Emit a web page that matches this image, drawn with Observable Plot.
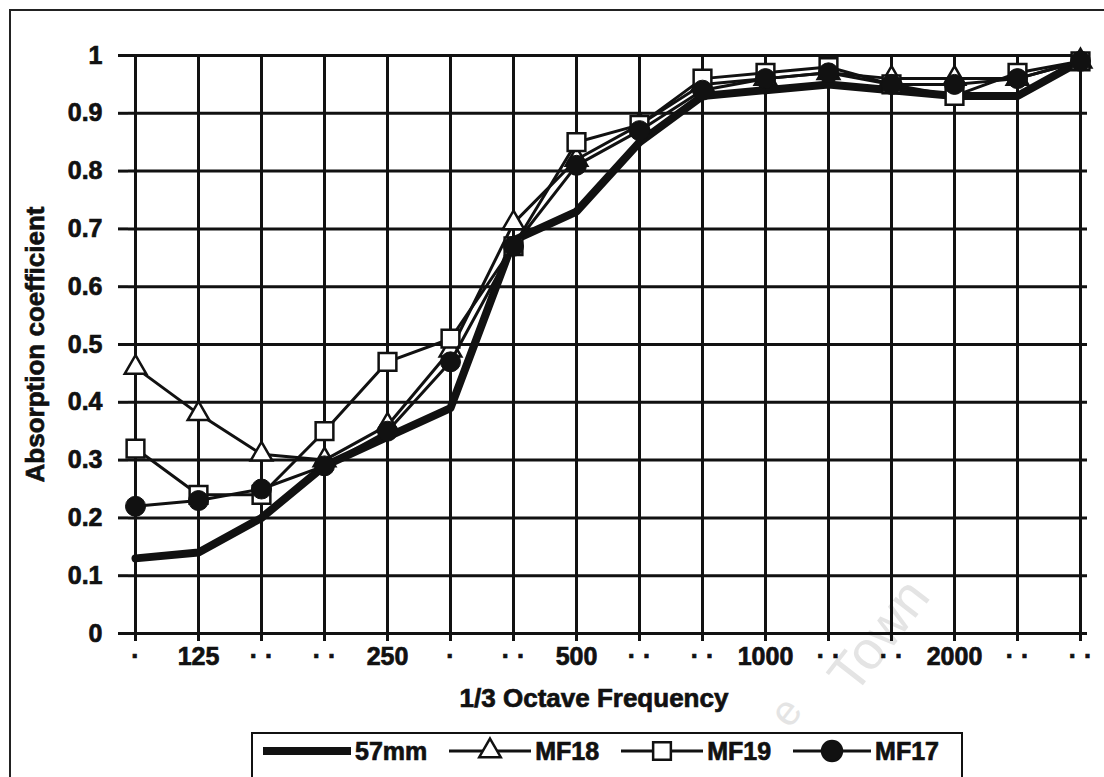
<!DOCTYPE html>
<html>
<head>
<meta charset="utf-8">
<script src="https://cdn.jsdelivr.net/npm/d3@7"></script>
<script src="https://cdn.jsdelivr.net/npm/@observablehq/plot@0.6"></script>
<style>
  body { margin: 0; background: #fff; }
  #wrap { position: relative; width: 1104px; height: 777px; overflow: hidden; background: #fff;
          font-family: "Liberation Sans", Arial, sans-serif; font-weight: bold; color: #111; }
  #border { position: absolute; left: 9px; top: 9px; width: 1300px; height: 1000px; border: 2px solid #222; }
  .wm { position: absolute; font-size: 54px; line-height: 1; font-weight: normal; color: #e4e4e4;
        transform-origin: 0 0; transform: rotate(-52deg); white-space: pre; }
  #plot { position: absolute; left: 0; top: 0; }
  #plot svg text { stroke: #111; stroke-width: 0.7px; }
  #legend { position: absolute; left: 251px; top: 732px; width: 708px; height: 80px; border: 2px solid #111;
            background: #fff; }
  #legend .row { display: flex; align-items: center; height: 34px; padding-left: 8px; font-size: 25px; }
  #legend .row span { margin-right: 20px; -webkit-text-stroke: 0.7px #111; }
  #legend svg { display: block; margin-right: 2px; }
</style>
</head>
<body>
<div id="wrap">
  <div id="border"></div>
  <div class="wm" style="left:762px;top:708px;font-size:42px;">e</div>
  <div class="wm" style="left:818px;top:668px;">Town</div>
  <div id="plot"></div>
  <div id="legend"><div class="row" id="legrow"></div></div>
</div>
<script>
// ---- data ----
const freqs = ["100","125","160","200","250","315","400","500","630","800","1000","1250","1600","2000","2500","3150"];
const xTickLabels = ["·","125","· ·","· ·","250","·","· ·","500","· ·","· ·","1000","· ·","· ·","2000","· ·","· ·"];
const yTicks = [0, 0.1, 0.2, 0.3, 0.4, 0.5, 0.6, 0.7, 0.8, 0.9, 1];
const yTickLabels = ["0","0.1","0.2","0.3","0.4","0.5","0.6","0.7","0.8","0.9","1"];

const seriesNames = ["57mm", "MF18", "MF19", "MF17"];
const s57mm = [0.13,0.14,0.20,0.29,0.34,0.39,0.68,0.73,0.85,0.93,0.94,0.95,0.94,0.93,0.93,0.99];
const sMF18 = [0.46,0.38,0.31,0.30,0.36,0.49,0.71,0.82,0.88,0.95,0.96,0.97,0.96,0.96,0.96,0.99];
const sMF19 = [0.32,0.24,0.24,0.35,0.47,0.51,0.67,0.85,0.88,0.96,0.97,0.98,0.95,0.93,0.97,0.99];
const sMF17 = [0.22,0.23,0.25,0.29,0.35,0.47,0.67,0.81,0.87,0.94,0.96,0.97,0.95,0.95,0.96,0.99];

const xLabelMap = new Map(freqs.map((f, i) => [f, xTickLabels[i]]));
const yLabelMap = new Map(yTicks.map((t, i) => [t, yTickLabels[i]]));
const rows = (name, vals) => freqs.map((f, i) => ({series: name, freq: f, value: vals[i]}));
const d57 = rows(seriesNames[0], s57mm);
const d18 = rows(seriesNames[1], sMF18);
const d19 = rows(seriesNames[2], sMF19);
const d17 = rows(seriesNames[3], sMF17);

const ink = "#111";

const chart = Plot.plot({
  width: 1104,
  height: 777,
  marginLeft: 128,
  marginRight: 17,
  marginTop: 55,
  marginBottom: 144,
  style: {background: "transparent", fontFamily: "'Liberation Sans', Arial, sans-serif",
          fontWeight: "bold", fontSize: "25px", color: ink},
  x: {type: "point", domain: freqs, padding: 0},
  y: {domain: [0, 1]},
  marks: [
    Plot.gridY(yTicks, {stroke: ink, strokeOpacity: 1, strokeWidth: 3}),
    Plot.gridX(freqs, {stroke: ink, strokeOpacity: 1, strokeWidth: 3}),
    Plot.axisY(yTicks, {tickSize: 10, tickPadding: 16, tickFormat: d => yLabelMap.get(d),
                        stroke: ink, strokeWidth: 3, label: null}),
    Plot.axisX(freqs, {tickSize: 8, tickPadding: 6, tickFormat: d => xLabelMap.get(d),
                       stroke: ink, strokeWidth: 3, label: null}),
    Plot.line(d57, {x: "freq", y: "value", stroke: ink, strokeWidth: 8, strokeLinejoin: "round"}),
    Plot.line(d18, {x: "freq", y: "value", stroke: ink, strokeWidth: 3}),
    Plot.dot(d18, {x: "freq", y: "value", symbol: "triangle", r: 8, fill: "white", stroke: ink, strokeWidth: 2.5}),
    Plot.line(d19, {x: "freq", y: "value", stroke: ink, strokeWidth: 3}),
    Plot.dot(d19, {x: "freq", y: "value", symbol: "square", r: 10, fill: "white", stroke: ink, strokeWidth: 2.5}),
    Plot.line(d17, {x: "freq", y: "value", stroke: ink, strokeWidth: 3}),
    Plot.dot(d17, {x: "freq", y: "value", symbol: "circle", r: 10, fill: ink, stroke: ink, strokeWidth: 1}),
    Plot.text(["Absorption coefficient"], {frameAnchor: "left", textAnchor: "middle", rotate: -90, dx: -93,
                                           fontSize: 26, fontWeight: "bold", fill: ink}),
    Plot.text(["1/3 Octave Frequency"], {frameAnchor: "bottom", dy: 73, dx: -14, fontSize: 26, fontWeight: "bold", fill: ink})
  ]
});
document.getElementById("plot").append(chart);

// ---- legend ----
const NS = "http://www.w3.org/2000/svg";
const legendSpec = [
  {name: seriesNames[0], w: 92, lw: 8, sym: null},
  {name: seriesNames[1], w: 86, lw: 3, sym: "triangle"},
  {name: seriesNames[2], w: 86, lw: 3, sym: "square"},
  {name: seriesNames[3], w: 82, lw: 3, sym: "circle"}
];
const row = document.getElementById("legrow");
for (const s of legendSpec) {
  const svg = document.createElementNS(NS, "svg");
  svg.setAttribute("width", s.w);
  svg.setAttribute("height", 30);
  const ln = document.createElementNS(NS, "line");
  ln.setAttribute("x1", 2); ln.setAttribute("x2", s.w - 2);
  ln.setAttribute("y1", 15); ln.setAttribute("y2", 15);
  ln.setAttribute("stroke", ink); ln.setAttribute("stroke-width", s.lw);
  svg.append(ln);
  if (s.sym) {
    const p = document.createElementNS(NS, "path");
    const typ = s.sym === "triangle" ? d3.symbolTriangle : s.sym === "square" ? d3.symbolSquare : d3.symbolCircle;
    const r = s.sym === "triangle" ? 8 : 10;
    p.setAttribute("d", d3.symbol(typ, Math.PI * r * r)());
    p.setAttribute("transform", `translate(${s.w / 2},15)`);
    p.setAttribute("fill", s.sym === "circle" ? ink : "white");
    p.setAttribute("stroke", ink);
    p.setAttribute("stroke-width", 2.5);
    svg.append(p);
  }
  const sp = document.createElement("span");
  sp.textContent = s.name;
  row.append(svg, sp);
}
</script>
</body>
</html>
